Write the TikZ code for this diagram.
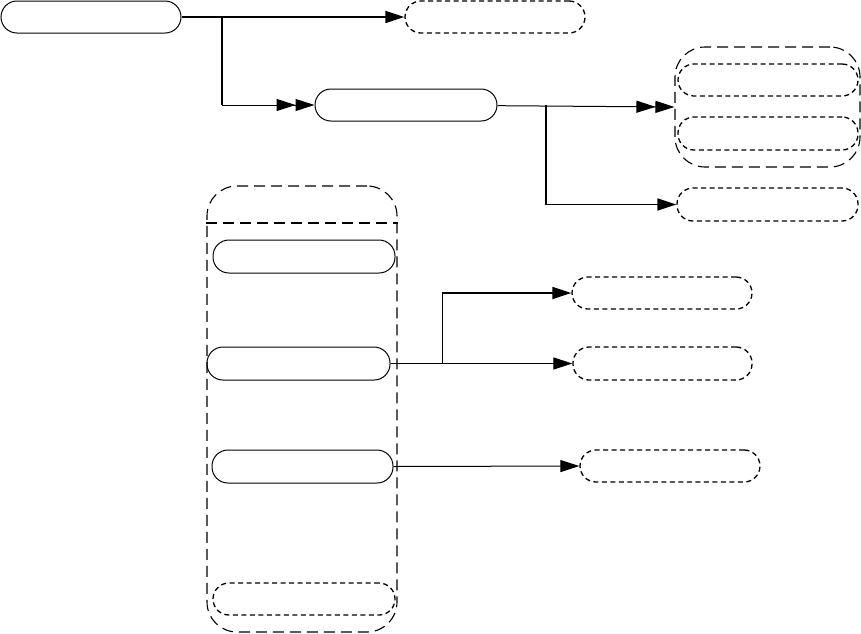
\documentclass[tikz,border=0pt]{standalone}
\usetikzlibrary{arrows.meta}
\begin{document}
\begin{tikzpicture}[x=1pt, y=-1pt,
    box/.style={draw, line width=1pt, rounded corners=16pt, minimum width=181pt, minimum height=32pt, inner sep=0pt},
    ghost/.style={box, line width=1.3pt, dash pattern=on 5pt off 3.5pt},
    group/.style={draw, line width=1.1pt, rounded corners=30pt, dash pattern=on 11pt off 6pt, inner sep=0pt},
    wire/.style={line width=1pt},
    heavy/.style={line width=1.7pt},
    one/.style={-{Triangle[length=19pt,width=12pt]}},
    two/.style={-{Triangle[length=19pt,width=12pt]Triangle[length=19pt,width=12pt]}}]
    \useasboundingbox (0,0) rectangle (861,633);
    % groups
    \node[group, minimum width=185pt, minimum height=120pt] (rgrp) at (767.5,107) {};
    \node[group, minimum width=190pt, minimum height=446pt] (lgrp) at (302,409) {};
    \draw[line width=1.1pt, dash pattern=on 11pt off 6pt] (lgrp.west |- 0,223) -- (lgrp.east |- 0,223);
    % top row
    \node[box, minimum width=180pt] (src) at (91,17) {};
    \node[ghost, minimum width=180pt] (out) at (495,17) {};
    \node[box, minimum width=182pt] (mid) at (406,105) {};
    \node[ghost, minimum width=180pt] (ra) at (768,80) {};
    \node[ghost, minimum width=180pt, minimum height=33pt] (rb) at (768,133.5) {};
    \node[ghost, minimum height=33pt] (rc) at (767.5,204.5) {};
    % left column
    \node[box, minimum width=182pt, minimum height=33pt] (la) at (304,256.5) {};
    \node[box, minimum width=183pt, minimum height=33pt] (lb) at (298.5,363.5) {};
    \node[box, minimum height=33pt] (lc) at (302.5,466.5) {};
    \node[ghost, minimum width=182pt] (ld) at (304,599) {};
    \node[ghost, minimum width=180pt] (ta) at (662,293) {};
    \node[ghost, minimum width=179pt, minimum height=33pt] (tb) at (662.5,363.5) {};
    \node[ghost, minimum width=180pt] (tc) at (670,466) {};
    % connectors
    \coordinate (s1) at (222,17);
    \coordinate (s2) at (546,105);
    \coordinate (s3) at (442,363.5);
    \draw[heavy, one] (src) -- (out);
    \draw[heavy] (s1) -- (s1 |- mid.west);
    \draw[wire, two] (s1 |- mid.west) -- (mid.west);
    \draw[wire, two] (mid) -- (rgrp.west);
    \draw[heavy, one] (s2) |- (rc.west);
    \draw[wire, one] (lb) -- (tb);
    \draw[wire] (s3) -- (s3 |- ta.west);
    \draw[heavy, one] (s3 |- ta.west) -- (ta.west);
    \draw[wire, one] (lc.east) -- (tc.west);
\end{tikzpicture}
\end{document}
